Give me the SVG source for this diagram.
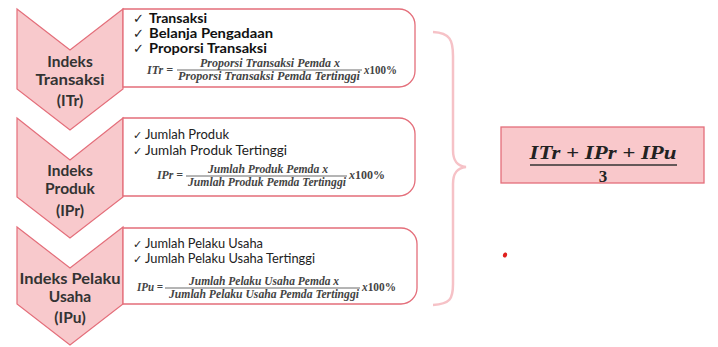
<svg xmlns="http://www.w3.org/2000/svg" width="718" height="347" viewBox="0 0 718 347">
<style>
.chev{fill:#f8c9cc;stroke:#e46e7a;stroke-width:1.2}
.box{fill:#ffffff;stroke:#e46e7a;stroke-width:1.3}
.ct{font-family:Lato,"Open Sans",sans-serif;font-weight:bold;font-size:15.5px;fill:#333;text-anchor:middle}
.b1{font-family:Lato,"Open Sans",sans-serif;font-weight:bold;font-size:13.5px;fill:#111}
.b2{font-family:Lato,"Open Sans",sans-serif;font-size:12.5px;fill:#222}
.ck{font-family:"DejaVu Sans",sans-serif;fill:#222}
.f{font-family:"Liberation Serif","DejaVu Serif",serif;font-style:italic;font-weight:bold;font-size:11.5px;fill:#444}
.fn{font-style:normal}
.fl{stroke:#444;stroke-width:0.8}
.big{font-family:"Liberation Serif","DejaVu Serif",serif;font-style:italic;font-weight:bold;font-size:18px;fill:#222;text-anchor:middle}
.three{font-family:"Liberation Serif","DejaVu Serif",serif;font-weight:bold;font-size:17px;fill:#222;text-anchor:middle}
</style>
<g id="connectors">
<path d="M433,32 C450,33 453,40 453,56 V150 C453,161 457,166 466,167 C457,168 453,173 453,184 V284 C453,299 450,304 433,305" fill="none" stroke="#f6c2c7" stroke-width="2.5"/>
</g>
<g id="chevron-itr">
<path class="chev" d="M17,9 L70,50 L123,9 L123,89 L70,130 L17,89 Z"/>
<text class="ct" x="70" y="67">Indeks</text>
<text class="ct" x="70" y="85" textLength="69" lengthAdjust="spacingAndGlyphs">Transaksi</text>
<text class="ct" x="70" y="106">(ITr)</text>
</g>
<g id="box-itr">
<path class="box" d="M123,9 H399 A16,16 0 0 1 415,25 V71 A16,16 0 0 1 399,87 H123 Z"/>
<text class="ck" x="133" y="23" font-size="13">✓</text>
<text class="b1" x="149" y="23" textLength="58" lengthAdjust="spacingAndGlyphs">Transaksi</text>
<text class="ck" x="133" y="38" font-size="13">✓</text>
<text class="b1" x="149" y="38" textLength="124" lengthAdjust="spacingAndGlyphs">Belanja Pengadaan</text>
<text class="ck" x="133" y="53" font-size="13">✓</text>
<text class="b1" x="149" y="53" textLength="118" lengthAdjust="spacingAndGlyphs">Proporsi Transaksi</text>
<text class="f" x="147" y="74" textLength="26" lengthAdjust="spacingAndGlyphs">ITr =</text>
<text class="f" x="270" y="67" text-anchor="middle" textLength="140" lengthAdjust="spacingAndGlyphs">Proporsi Transaksi Pemda x</text>
<line class="fl" x1="177" y1="70" x2="362" y2="70"/>
<text class="f" x="269" y="80" text-anchor="middle" textLength="182" lengthAdjust="spacingAndGlyphs">Proporsi Transaksi Pemda Tertinggi</text>
<text class="f" x="364" y="74" textLength="33" lengthAdjust="spacingAndGlyphs">x<tspan class="fn">100%</tspan></text>
</g>
<g id="chevron-ipr">
<path class="chev" d="M17,118 L70,160 L123,118 L123,197 L70,238 L17,197 Z"/>
<text class="ct" x="70" y="176">Indeks</text>
<text class="ct" x="70" y="194">Produk</text>
<text class="ct" x="70" y="216">(IPr)</text>
</g>
<g id="box-ipr">
<path class="box" d="M123,118 H399 A16,16 0 0 1 415,134 V180 A16,16 0 0 1 399,196 H123 Z"/>
<text class="ck" x="133" y="139" font-size="11">✓</text>
<text class="b2" x="145" y="139" textLength="84" lengthAdjust="spacingAndGlyphs">Jumlah Produk</text>
<text class="ck" x="133" y="155" font-size="11">✓</text>
<text class="b2" x="145" y="155" textLength="142" lengthAdjust="spacingAndGlyphs">Jumlah Produk Tertinggi</text>
<text class="f" x="157" y="179" textLength="26" lengthAdjust="spacingAndGlyphs">IPr =</text>
<text class="f" x="268" y="173" text-anchor="middle" textLength="120" lengthAdjust="spacingAndGlyphs">Jumlah Produk Pemda x</text>
<line class="fl" x1="186" y1="176" x2="347" y2="176"/>
<text class="f" x="267" y="186" text-anchor="middle" textLength="158" lengthAdjust="spacingAndGlyphs">Jumlah Produk Pemda Tertinggi</text>
<text class="f" x="349" y="179" textLength="36" lengthAdjust="spacingAndGlyphs">x<tspan class="fn">100%</tspan></text>
</g>
<g id="chevron-ipu">
<path class="chev" d="M17,227 L70,268 L123,227 L123,304 L70,345 L17,304 Z"/>
<text class="ct" x="70" y="284" textLength="101" lengthAdjust="spacingAndGlyphs">Indeks Pelaku</text>
<text class="ct" x="70" y="302">Usaha</text>
<text class="ct" x="70" y="323">(IPu)</text>
</g>
<g id="box-ipu">
<path class="box" d="M123,228 H401 A16,16 0 0 1 417,244 V288 A16,16 0 0 1 401,304 H123 Z"/>
<text class="ck" x="133" y="248" font-size="11">✓</text>
<text class="b2" x="145" y="248" textLength="118" lengthAdjust="spacingAndGlyphs">Jumlah Pelaku Usaha</text>
<text class="ck" x="133" y="263" font-size="11">✓</text>
<text class="b2" x="145" y="263" textLength="170" lengthAdjust="spacingAndGlyphs">Jumlah Pelaku Usaha Tertinggi</text>
<text class="f" x="137" y="291" textLength="26" lengthAdjust="spacingAndGlyphs">IPu =</text>
<text class="f" x="264" y="285" text-anchor="middle" textLength="150" lengthAdjust="spacingAndGlyphs">Jumlah Pelaku Usaha Pemda x</text>
<line class="fl" x1="165" y1="288" x2="360" y2="288"/>
<text class="f" x="264" y="298" text-anchor="middle" textLength="190" lengthAdjust="spacingAndGlyphs">Jumlah Pelaku Usaha Pemda Tertinggi</text>
<text class="f" x="362" y="291" textLength="34" lengthAdjust="spacingAndGlyphs">x<tspan class="fn">100%</tspan></text>
</g>
<g id="result">
<rect x="501" y="127" width="203" height="56" fill="#f9c8cb" stroke="#e46e7a" stroke-width="1.3"/>
<text class="big" x="603" y="159" textLength="147" lengthAdjust="spacingAndGlyphs">ITr + IPr + IPu</text>
<line x1="530" y1="165" x2="677" y2="165" stroke="#333" stroke-width="1.3"/>
<text class="three" x="603" y="182">3</text>
</g>
<g id="dot">
<ellipse cx="505" cy="255" rx="2" ry="2.6" transform="rotate(20 505 255)" fill="#e0201e"/>
</g>
</svg>
